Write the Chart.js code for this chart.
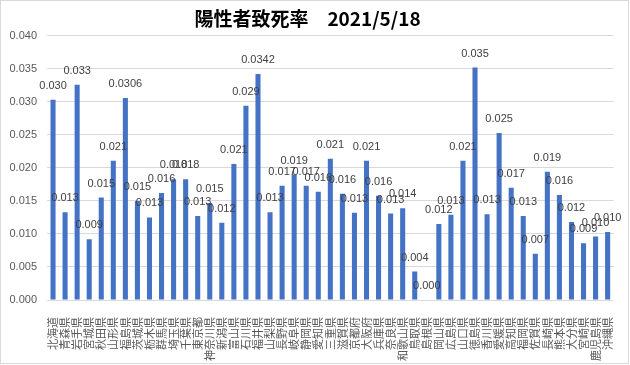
<!DOCTYPE html>
<html lang="ja">
<head>
<meta charset="utf-8">
<title>陽性者致死率</title>
<script src="https://cdn.jsdelivr.net/npm/chart.js@4"></script>
<style>
    body { margin: 0; background: #fff; }
    #wrap { width: 630px; height: 365px; }
</style>
</head>
<body>
<div id="wrap"><canvas id="myBarChart" width="630" height="365"></canvas></div>
<script>
const prefectures = ['北海道', '青森県', '岩手県', '宮城県', '秋田県', '山形県', '福島県', '茨城県', '栃木県', '群馬県',
    '埼玉県', '千葉県', '東京都', '神奈川県', '新潟県', '富山県', '石川県', '福井県', '山梨県', '長野県',
    '岐阜県', '静岡県', '愛知県', '三重県', '滋賀県', '京都府', '大阪府', '兵庫県', '奈良県', '和歌山県',
    '鳥取県', '島根県', '岡山県', '広島県', '山口県', '徳島県', '香川県', '愛媛県', '高知県', '福岡県',
    '佐賀県', '長崎県', '熊本県', '大分県', '宮崎県', '鹿児島県', '沖縄県'];

// fatality rate
const rates = [0.0303, 0.0133, 0.0326, 0.0092, 0.0155, 0.0211, 0.0306, 0.0150, 0.0125, 0.0162,
    0.0183, 0.0183, 0.0127, 0.0147, 0.0117, 0.0206, 0.0294, 0.0342, 0.0133, 0.0173,
    0.0190, 0.0173, 0.0164, 0.0214, 0.0161, 0.0132, 0.0211, 0.0158, 0.0131, 0.0139,
    0.0043, 0.0000, 0.0115, 0.0129, 0.0211, 0.0352, 0.0130, 0.0253, 0.0170, 0.0127,
    0.0070, 0.0194, 0.0159, 0.0118, 0.0086, 0.0096, 0.0103];

// label text as printed above each bar
const rateLabels = ['0.030', '0.013', '0.033', '0.009', '0.015', '0.021', '0.0306', '0.015', '0.013', '0.016',
    '0.018', '0.018', '0.013', '0.015', '0.012', '0.021', '0.029', '0.0342', '0.013', '0.017',
    '0.019', '0.017', '0.016', '0.021', '0.016', '0.013', '0.021', '0.016', '0.013', '0.014',
    '0.004', '0.000', '0.012', '0.013', '0.021', '0.035', '0.013', '0.025', '0.017', '0.013',
    '0.007', '0.019', '0.016', '0.012', '0.009', '0.010', '0.010'];

const yTicks = [0, 0.005, 0.010, 0.015, 0.020, 0.025, 0.030, 0.035, 0.040];

const frame = {
    id: 'frame',
    beforeDraw(chart) {
        const ctx = chart.ctx;
        ctx.save();
        ctx.fillStyle = '#ffffff';
        ctx.fillRect(0, 0, chart.width, chart.height);
        ctx.strokeStyle = '#d9d9d9';
        ctx.lineWidth = 1;
        ctx.strokeRect(0.5, 0.5, chart.width - 2, chart.height - 2);
        ctx.restore();
    }
};

const valueLabels = {
    id: 'valueLabels',
    afterDatasetsDraw(chart) {
        const ctx = chart.ctx;
        const meta = chart.getDatasetMeta(0);
        ctx.save();
        ctx.font = '11px "Liberation Sans", sans-serif';
        ctx.fillStyle = '#404040';
        ctx.textAlign = 'center';
        ctx.textBaseline = 'middle';
        meta.data.forEach((bar, i) => {
            ctx.fillText(rateLabels[i], bar.x, bar.y - 14);
        });
        ctx.restore();
    }
};

new Chart(document.querySelector('#myBarChart'), {
    type: 'bar',
    data: {
        labels: prefectures,
        datasets: [{
            data: rates,
            backgroundColor: '#4472c4',
            categoryPercentage: 1,
            barPercentage: 0.42
        }]
    },
    options: {
        responsive: false,
        animation: false,
        layout: { padding: { left: 0, right: 15, top: 0, bottom: 0 } },
        plugins: {
            legend: { display: false },
            tooltip: { enabled: false },
            title: {
                display: true,
                text: '陽性者致死率　2021/5/18',
                color: '#000000',
                font: { family: '"Noto Sans CJK JP", sans-serif', size: 19, weight: 'bold', lineHeight: 1.2 },
                padding: { top: 7, bottom: 6 }
            }
        },
        scales: {
            x: {
                grid: { display: false },
                border: { display: false },
                ticks: {
                    autoSkip: false,
                    minRotation: 90,
                    maxRotation: 90,
                    padding: 9,
                    color: '#595959',
                    font: { family: '"Noto Sans CJK JP", sans-serif', size: 11 }
                },
                afterFit(scale) { scale.height = 65; }
            },
            y: {
                min: 0,
                max: 0.04,
                afterBuildTicks(scale) { scale.ticks = yTicks.map(v => ({ value: v })); },
                grid: { color: '#d9d9d9', drawTicks: false },
                border: { display: false },
                ticks: {
                    padding: 10,
                    color: '#595959',
                    font: { family: '"Liberation Sans", sans-serif', size: 11 },
                    callback: v => v.toFixed(3)
                },
                afterFit(scale) { scale.width = 47; }
            }
        }
    },
    plugins: [frame, valueLabels]
});
</script>
</body>
</html>
